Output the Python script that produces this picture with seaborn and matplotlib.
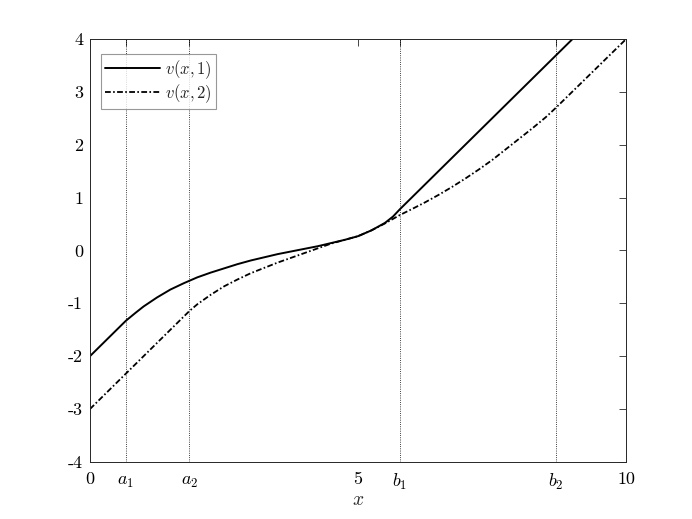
import numpy as np
import pandas as pd
import seaborn as sns
import matplotlib
matplotlib.use('Agg')
import matplotlib.pyplot as plt

# values
x_v1 = [0, 0.67, 0.85, 1.0, 1.25, 1.5, 1.75, 2.0, 2.25, 2.5, 2.75, 3.0, 3.25,
        3.5, 3.75, 4.0, 4.25, 4.5, 4.75, 5.0, 5.25, 5.5, 5.65, 5.78, 9.0, 10.0]
y_v1 = [-2.0, -1.33, -1.18, -1.06, -0.89, -0.74, -0.62, -0.51, -0.42, -0.34,
        -0.26, -0.19, -0.13, -0.07, -0.02, 0.03, 0.08, 0.14, 0.20, 0.27, 0.38,
        0.52, 0.64, 0.78, 4.0, 5.0]

x_v2 = [0, 1.85, 2.0, 2.25, 2.5, 2.75, 3.0, 3.25, 3.5, 3.75, 4.0, 4.25, 4.5,
        4.75, 5.0, 5.25, 5.5, 5.78, 6.0, 6.25, 6.5, 6.75, 7.0, 7.25, 7.5, 7.75,
        8.0, 8.25, 8.5, 8.69, 10.0]
y_v2 = [-3.0, -1.15, -1.02, -0.84, -0.68, -0.55, -0.43, -0.33, -0.23, -0.14,
        -0.05, 0.04, 0.13, 0.20, 0.27, 0.38, 0.51, 0.67, 0.78, 0.91, 1.05, 1.20,
        1.36, 1.53, 1.71, 1.91, 2.11, 2.31, 2.52, 2.70, 4.0]

# special points a1, a2, b1, b2
marks = [0.67, 1.85, 5.78, 8.69]
xticks = [0, 0.67, 1.85, 5, 5.78, 8.69, 10]
xtick_labels = ['0', '$a_1$', '$a_2$', '5', '$b_1$', '$b_2$', '10']
yticks = [-4, -3, -2, -1, 0, 1, 2, 3, 4]
ytick_labels = ['-4', '-3', '-2', '-1', '0', '1', '2', '3', '4']

sns.set_style('white')
plt.rcParams['mathtext.fontset'] = 'cm'

df1 = pd.DataFrame({'x': x_v1, 'y': y_v1})
df2 = pd.DataFrame({'x': x_v2, 'y': y_v2})

fig = plt.figure(figsize=(6.92, 5.19), dpi=100)
ax = fig.add_axes([0.13, 0.11, 0.775, 0.815])

for m in marks:
    ax.axvline(m, color='k', linestyle=':', linewidth=0.6)

sns.lineplot(data=df1, x='x', y='y', ax=ax, color='k', linewidth=1.4,
             label='$v(x,1)$')
sns.lineplot(data=df2, x='x', y='y', ax=ax, color='k', linewidth=1.3,
             label='$v(x,2)$')
ax.lines[-1].set_dashes((3.2, 1.3, 0.9, 1.3))

ax.set_xlim(0, 10)
ax.set_ylim(-4, 4)
ax.set_xticks(xticks)
ax.set_xticklabels(xtick_labels)
ax.set_yticks(yticks)
ax.set_yticklabels(ytick_labels)
for lab in ax.get_xticklabels() + ax.get_yticklabels():
    if '$' not in lab.get_text():
        lab.set_fontfamily('cmr10')
    lab.set_fontsize(13)
ax.tick_params(direction='in', length=5, width=0.6, top=True, right=True,
               colors='#262626', labelcolor='k', pad=5)
ax.tick_params(axis='x', pad=7)
ax.set_xlabel('$x$', fontsize=14, labelpad=-1)
ax.set_ylabel('')
for s in ax.spines.values():
    s.set_color('#262626')
    s.set_linewidth(0.7)

leg = ax.legend(loc='upper left', bbox_to_anchor=(0.02, 0.965), fontsize=12,
                frameon=True, fancybox=False, handlelength=3.3,
                borderpad=0.25, labelspacing=0.1, handletextpad=0.3,
                borderaxespad=0.0)
leg.get_frame().set_edgecolor('#7f7f7f')
leg.get_frame().set_linewidth(0.8)
leg.get_lines()[1].set_dashes((3.2, 1.3, 0.9, 1.3))

fig.savefig('out.png', dpi=100)
